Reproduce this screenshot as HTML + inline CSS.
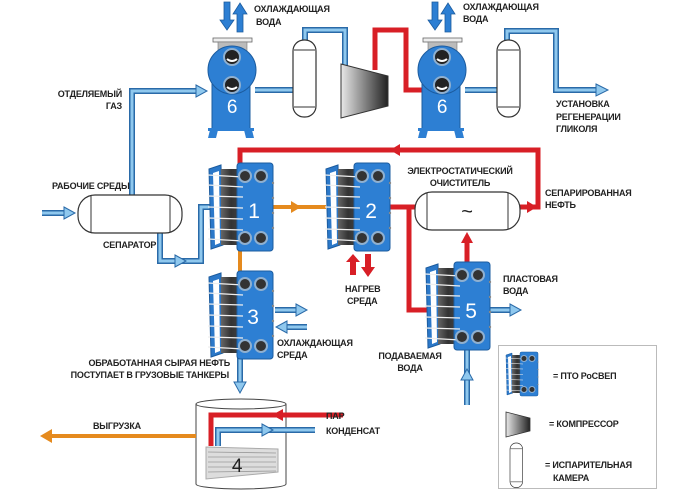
<!DOCTYPE html>
<html><head><meta charset="utf-8"><style>
html,body{margin:0;padding:0;background:#fff;}
svg{display:block}
text{font-family:"Liberation Sans",sans-serif;font-weight:bold;font-size:9px;fill:#222;letter-spacing:-0.2px}
</style></head><body>
<svg width="686" height="491" viewBox="0 0 686 491" xmlns="http://www.w3.org/2000/svg">
<defs>
<linearGradient id="cg" x1="0" x2="1"><stop offset="0" stop-color="#e8e8e8"/><stop offset="1" stop-color="#222"/></linearGradient>
<linearGradient id="pk" x1="0" x2="1"><stop offset="0" stop-color="#666"/><stop offset="0.5" stop-color="#333"/><stop offset="1" stop-color="#444"/></linearGradient>
<g id="phe">
  <polygon points="2,6 14,2 16,82 4,86" fill="#2b78c9" stroke="#1c5c9f" stroke-width="1"/>
  <polygon points="6,10 12,8 13,80 8,82" fill="#fff"/>
  <rect x="14" y="6" width="20" height="76" fill="url(#pk)"/>
  <rect x="30" y="0" width="36" height="88" rx="3" fill="#2d7fd3" stroke="#1c5c9f" stroke-width="1"/>
  <g stroke="#eee" stroke-width="1.2">
    <line x1="1" y1="12" x2="36" y2="14"/><line x1="1" y1="22" x2="36" y2="24"/><line x1="1" y1="33" x2="36" y2="34"/>
    <line x1="1" y1="44" x2="36" y2="45"/><line x1="1" y1="55" x2="36" y2="56"/><line x1="1" y1="66" x2="36" y2="67"/><line x1="1" y1="76" x2="36" y2="78"/>
  </g>
  <g fill="#333" stroke="#8fb0d0" stroke-width="2">
    <circle cx="38" cy="13" r="6"/><circle cx="54" cy="13" r="6"/><circle cx="38" cy="75" r="6"/><circle cx="54" cy="75" r="6"/>
  </g>
  <g fill="#888"><circle cx="66" cy="20" r="1.2"/><circle cx="66" cy="35" r="1.2"/><circle cx="66" cy="50" r="1.2"/><circle cx="66" cy="65" r="1.2"/></g>
</g>
<g id="hx6">
  <rect x="5" y="8" width="39" height="4" fill="#eee" stroke="#666" stroke-width="0.8"/>
  <rect x="10" y="12" width="29" height="12" fill="#bbb" stroke="#777" stroke-width="0.6"/>
  <rect x="4" y="52" width="38" height="48" fill="#2d7fd3" stroke="#1c5c9f"/>
  <circle cx="24" cy="40" r="24" fill="#2d7fd3" stroke="#1c5c9f"/>
  <circle cx="24" cy="27" r="8" fill="#222" stroke="#8fb0d0" stroke-width="2"/>
  <circle cx="24" cy="55" r="8" fill="#222" stroke="#8fb0d0" stroke-width="2"/>
  <path d="M19,29 q5,4 10,0" stroke="#fff" stroke-width="2" fill="none"/>
  <path d="M19,57 q5,4 10,0" stroke="#fff" stroke-width="2" fill="none"/>
  <polygon points="2,100 10,100 8,108 0,108" fill="#2d7fd3"/><polygon points="36,100 44,100 46,108 38,108" fill="#2d7fd3"/>
  <rect x="0" y="98" width="46" height="3" fill="#2d7fd3"/>
  <text x="24" y="83" text-anchor="middle" style="font-size:19px;font-weight:normal;fill:#fff">6</text>
</g>
<g id="vessel">
  <rect x="0" y="0" width="23" height="77" rx="11" fill="#fff" stroke="#333" stroke-width="1.2"/>
  <line x1="1" y1="10" x2="22" y2="10" stroke="#333"/><line x1="1" y1="67" x2="22" y2="67" stroke="#333"/>
</g>
</defs>

<!-- tank (behind pipes) -->
<path d="M196,404 L196,484 A45,5 0 0 0 286,484 L286,404" fill="#fff" stroke="#444" stroke-width="1"/>
<ellipse cx="241" cy="404" rx="45" ry="5" fill="#fff" stroke="#444" stroke-width="1"/>
<polygon points="206,447 278,449 278,472 206,479" fill="#ddd" stroke="#aaa"/>
<g stroke="#999" stroke-width="0.8"><line x1="208" y1="452" x2="276" y2="453"/><line x1="208" y1="457" x2="276" y2="457"/><line x1="208" y1="462" x2="276" y2="462"/><line x1="208" y1="467" x2="276" y2="467"/><line x1="208" y1="472" x2="276" y2="471"/></g>
<text x="237" y="472" text-anchor="middle" style="font-size:19px;font-weight:normal;fill:#222">4</text>

<!-- blue pipes -->
<g fill="none" stroke-linejoin="miter">
 <g stroke="#2a6aa8" stroke-width="6">
  <polyline points="132,195 132,91 198,91"/>
  <polyline points="160,233 160,261 201,261 201,207 210,207"/>
  <polyline points="255,90 294,90"/>
  <polyline points="305,40 305,30 345,30 345,66"/>
  <polyline points="465,90 498,90"/>
  <polyline points="507,40 507,31 556,31 556,90 598,90"/>
  <polyline points="42,213 66,213"/>
  <polyline points="240,357 240,384"/>
  <polyline points="275,310 298,310"/><polyline points="285,327 307,327"/>
  <polyline points="490,310 512,310"/>
  <polyline points="467,405 467,345"/>
  <polyline points="218,446 218,430 315,430"/>
 </g>
 <g stroke="#8fc8ee" stroke-width="3">
  <polyline points="132,195 132,91 198,91"/>
  <polyline points="160,233 160,261 201,261 201,207 210,207"/>
  <polyline points="255,90 294,90"/>
  <polyline points="305,40 305,30 345,30 345,66"/>
  <polyline points="465,90 498,90"/>
  <polyline points="507,40 507,31 556,31 556,90 598,90"/>
  <polyline points="42,213 66,213"/>
  <polyline points="240,357 240,384"/>
  <polyline points="275,310 298,310"/><polyline points="285,327 307,327"/>
  <polyline points="490,310 512,310"/>
  <polyline points="467,405 467,345"/>
  <polyline points="218,446 218,430 315,430"/>
 </g>
</g>
<g fill="#8fc8ee" stroke="#2a6aa8" stroke-width="1">
 <polygon points="196,85 207,91 196,97"/>
 <polygon points="175,255 186,261 175,267"/>
 <polygon points="64,207 75,213 64,219"/>
 <polygon points="596,84 608,90 596,96"/>
 <polygon points="234,382 240,393 246,382"/>
 <polygon points="296,304 307,310 296,316"/>
 <polygon points="287,321 276,327 287,333"/>
 <polygon points="510,304 521,310 510,316"/>
 <polygon points="461,380 467,369 473,380"/>
 <polygon points="262,424 273,430 262,436"/>
</g>
<!-- cooling water arrows -->
<g fill="#2d7fd3" stroke="#1c5c9f" stroke-width="0.8">
 <polygon points="224,2 230,2 230,20 234,20 227,30 220,20 224,20"/>
 <polygon points="237,32 243,32 243,14 247,14 240,3 233,14 237,14"/>
 <polygon points="432,2 438,2 438,20 442,20 435,30 428,20 432,20"/>
 <polygon points="445,32 451,32 451,14 455,14 448,3 441,14 445,14"/>
</g>
<!-- red pipes -->
<g fill="none" stroke="#d81f26" stroke-width="5">
 <polyline points="375,70 375,30 406,30 406,90 424,90"/>
 <polyline points="240,166 240,150 538,150 538,207 520,207"/>
 <polyline points="390,207 416,207"/>
 <polyline points="409,207 409,310 430,310"/>
 <polyline points="467,265 467,240"/>
 <polyline points="343,415 211,415 211,446"/>
</g>
<g fill="#d81f26">
 <polygon points="400,144 390,150 400,156"/>
 <polygon points="527,201 537,207 527,213"/>
 <polygon points="461,243 467,232 473,243"/>
 <polygon points="283,409 272,415 283,421"/>
 <polygon points="350,255 356,255 356,268 360,268 353,276 346,268 350,268" transform="rotate(180 353 265)"/>
 <polygon points="365,254 371,254 371,267 375,267 368,277 361,267 365,267"/>
</g>
<!-- orange pipes -->
<g fill="none" stroke="#e58a1e" stroke-width="4">
 <line x1="272" y1="207" x2="326" y2="207"/>
 <line x1="240" y1="250" x2="240" y2="273"/>
 <line x1="196" y1="436" x2="50" y2="436"/>
</g>
<polygon points="291,201 301,207 291,213" fill="#e58a1e"/>
<polygon points="52,429 40,436 52,443" fill="#e58a1e"/>

<!-- equipment -->
<use href="#hx6" x="208" y="30"/>
<use href="#hx6" x="418" y="30"/>
<use href="#vessel" x="293" y="40"/>
<use href="#vessel" x="497" y="40"/>
<polygon points="341,64 388,76 388,106 341,118" fill="url(#cg)" stroke="#333" stroke-width="1"/>

<!-- separator -->
<rect x="78" y="195" width="104" height="38" rx="17" fill="#fff" stroke="#333" stroke-width="1.2"/>
<line x1="91" y1="196" x2="91" y2="232" stroke="#333"/><line x1="170" y1="196" x2="170" y2="232" stroke="#333"/>
<!-- electrostatic -->
<rect x="415" y="192" width="105" height="38" rx="17" fill="#fff" stroke="#333" stroke-width="1.2"/>
<line x1="427" y1="193" x2="427" y2="229" stroke="#333"/><line x1="508" y1="193" x2="508" y2="229" stroke="#333"/>
<text x="467" y="218" text-anchor="middle" style="font-size:20px;font-weight:normal">~</text>

<use href="#phe" x="207" y="163"/>
<use href="#phe" x="324" y="163"/>
<use href="#phe" x="207" y="271"/>
<use href="#phe" x="424" y="262"/>
<text x="254" y="218" text-anchor="middle" style="font-size:21px;font-weight:normal;fill:#fff">1</text>
<text x="371" y="218" text-anchor="middle" style="font-size:21px;font-weight:normal;fill:#fff">2</text>
<text x="253" y="324" text-anchor="middle" style="font-size:21px;font-weight:normal;fill:#fff">3</text>
<text x="471" y="318" text-anchor="middle" style="font-size:21px;font-weight:normal;fill:#fff">5</text>

<!-- legend -->
<rect x="498.5" y="345.5" width="158" height="143" fill="none" stroke="#bbb"/>
<use href="#phe" transform="translate(505,352) scale(0.5)"/>
<polygon points="506,412 530,418 530,431 506,437" fill="url(#cg)" stroke="#333" stroke-width="0.8"/>
<g transform="translate(510,443) scale(0.55,0.58)"><use href="#vessel"/></g>

<!-- labels -->
<text x="254" y="12">ОХЛАЖДАЮЩАЯ</text><text x="256" y="25">ВОДА</text>
<text x="463" y="10">ОХЛАЖДАЮЩАЯ</text><text x="463" y="22">ВОДА</text>
<text x="122" y="97" text-anchor="end">ОТДЕЛЯЕМЫЙ</text><text x="122" y="109" text-anchor="end">ГАЗ</text>
<text x="556" y="107">УСТАНОВКА</text><text x="556" y="120">РЕГЕНЕРАЦИИ</text><text x="556" y="132">ГЛИКОЛЯ</text>
<text x="52" y="189">РАБОЧИЕ СРЕДЫ</text>
<text x="103" y="248">СЕПАРАТОР</text>
<text x="460" y="174" text-anchor="middle">ЭЛЕКТРОСТАТИЧЕСКИЙ</text><text x="460" y="186" text-anchor="middle">ОЧИСТИТЕЛЬ</text>
<text x="545" y="196">СЕПАРИРОВАННАЯ</text><text x="545" y="208">НЕФТЬ</text>
<text x="345" y="292">НАГРЕВ</text><text x="347" y="304">СРЕДА</text>
<text x="503" y="282">ПЛАСТОВАЯ</text><text x="503" y="294">ВОДА</text>
<text x="277" y="346">ОХЛАЖДАЮЩАЯ</text><text x="277" y="358">СРЕДА</text>
<text x="410" y="359" text-anchor="middle">ПОДАВАЕМАЯ</text><text x="410" y="371" text-anchor="middle">ВОДА</text>
<text x="230" y="366" text-anchor="end">ОБРАБОТАННАЯ СЫРАЯ НЕФТЬ</text><text x="229" y="378" text-anchor="end">ПОСТУПАЕТ В ГРУЗОВЫЕ ТАНКЕРЫ</text>
<text x="326" y="419">ПАР</text><text x="326" y="434">КОНДЕНСАТ</text>
<text x="93" y="429">ВЫГРУЗКА</text>
<text x="553" y="379">= ПТО РоСВЕП</text>
<text x="549" y="427">= КОМПРЕССОР</text>
<text x="545" y="468">= ИСПАРИТЕЛЬНАЯ</text><text x="553" y="481">КАМЕРА</text>
</svg>
</body></html>
